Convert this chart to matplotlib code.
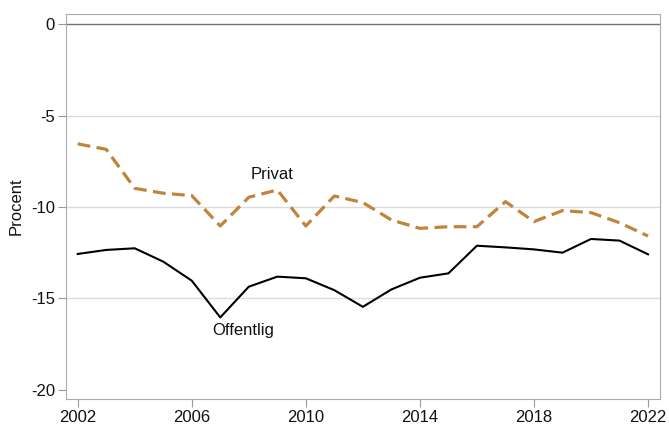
import matplotlib
matplotlib.use('Agg')
import matplotlib.pyplot as plt

plt.rcParams['font.family'] = ['Liberation Sans', 'DejaVu Sans']

years = list(range(2002, 2023))
privat = [-6.55, -6.85, -8.98, -9.25, -9.38, -11.04, -9.47, -9.07, -11.04, -9.4,
          -9.76, -10.71, -11.17, -11.08, -11.08, -9.71, -10.8, -10.2, -10.31, -10.86, -11.59]
offentlig = [-12.57, -12.35, -12.26, -12.99, -14.03, -16.04, -14.36, -13.81, -13.9, -14.55,
             -15.46, -14.51, -13.87, -13.63, -12.12, -12.21, -12.32, -12.5, -11.75, -11.84, -12.59]
xticks = [2002, 2006, 2010, 2014, 2018, 2022]
yticks = [0, -5, -10, -15, -20]

fig = plt.figure(figsize=(6.69, 4.28), dpi=100)
ax = fig.add_axes([66/669, 1 - 399/428, (660-66)/669, (399-14)/428])

# grid and zero line
for y in [-5, -10, -15]:
    ax.axhline(y, color='#dcdcdc', lw=1.0, zorder=1)
ax.axhline(0, color='#707070', lw=1.0, zorder=2)

ax.plot(years, privat, color='#c0843a', lw=2.3, dashes=(4, 2), zorder=3)
ax.plot(years, offentlig, color='black', lw=1.5, zorder=3)

ax.text(2008.8, -8.25, 'Privat', fontsize=12, ha='center', va='center', color='#111111')
ax.text(2007.8, -16.73, 'Offentlig', fontsize=12, ha='center', va='center', color='#111111')

ax.set_xlim(2001.59, 2022.42)
ax.set_ylim(-20.5, 0.55)
ax.set_xticks(xticks)
ax.set_yticks(yticks)
ax.set_xticklabels([str(x) for x in xticks])
ax.set_yticklabels([str(y) for y in yticks])
ax.tick_params(axis='both', labelsize=12, color='#999999', labelcolor='#111111',
               length=6, width=0.8, direction='out', pad=2)
ax.set_ylabel('Procent', fontsize=12, labelpad=5, color='#111111')

for s in ax.spines.values():
    s.set_color('#aaaaaa')
    s.set_linewidth(0.8)

fig.savefig('out.png', dpi=100)
